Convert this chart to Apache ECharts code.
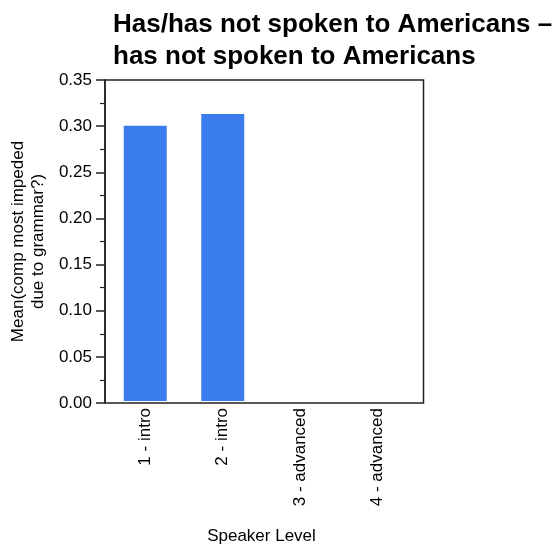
<!DOCTYPE html>
<html><head><meta charset="utf-8">
<script src="https://cdn.jsdelivr.net/npm/echarts@6/dist/echarts.min.js"></script>
<style>html,body{margin:0;padding:0;background:#fff}#c{width:558px;height:550px}</style>
</head><body><div id="c"></div>
<script>
const categories = ['1 - intro', '2 - intro', '3 - advanced', '4 - advanced'];
const values = [0.300, 0.313, null, null];
const yTicks = [0, 0.05, 0.10, 0.15, 0.20, 0.25, 0.30, 0.35];
const titleText = 'Has/has not spoken to Americans –\nhas not spoken to Americans';
const yName = 'Mean(comp most impeded\ndue to grammar?)';
const xName = 'Speaker Level';

const font = 'Liberation Sans, Arial, sans-serif';
const chart = echarts.init(document.getElementById('c'), null, {renderer: 'canvas'});
chart.setOption({
  animation: false,
  title: {
    text: titleText, left: 108, top: 4,
    textStyle: {fontFamily: font, fontSize: 26, fontWeight: 'bold', color: '#000', lineHeight: 32}
  },
  grid: [
    {left: 100, top: 80, width: 323.5, height: 323, show: true, borderColor: '#222', borderWidth: 1.5, backgroundColor: 'transparent'},
    {left: 106.5, top: 80, width: 310, height: 323}
  ],
  xAxis: [
    {type: 'category', gridIndex: 0, data: categories, show: false},
    {type: 'category', gridIndex: 1, data: categories,
     axisLine: {show: false}, axisTick: {show: false},
     axisLabel: {rotate: 90, interval: 0, fontFamily: font, fontSize: 17, color: '#000', margin: 7},
     name: xName, nameLocation: 'middle', nameGap: 127,
     nameTextStyle: {fontFamily: font, fontSize: 17, color: '#000'}}
  ],
  yAxis: [
    {type: 'value', gridIndex: 0, min: yTicks[0], max: yTicks[yTicks.length - 1], interval: 0.05,
     axisLine: {show: true, lineStyle: {color: '#222', width: 1.5}},
     axisTick: {show: true, length: 9, lineStyle: {color: '#222', width: 1.5}},
     minorTick: {show: true, splitNumber: 2, length: 5, lineStyle: {color: '#222', width: 1.2}},
     splitLine: {show: false},
     axisLabel: {fontFamily: font, fontSize: 17, color: '#000', margin: 13,
       formatter: v => v.toFixed(2)},
     name: yName, nameLocation: 'middle', nameGap: 50, nameRotate: 90,
     nameTextStyle: {fontFamily: font, fontSize: 17, color: '#000', lineHeight: 20}},
    {type: 'value', gridIndex: 1, min: yTicks[0], max: yTicks[yTicks.length - 1], show: false}
  ],
  series: [{
    type: 'bar', xAxisIndex: 1, yAxisIndex: 1, data: values,
    barWidth: 43, itemStyle: {color: '#3b7ced'}
  }]
});
</script></body></html>
